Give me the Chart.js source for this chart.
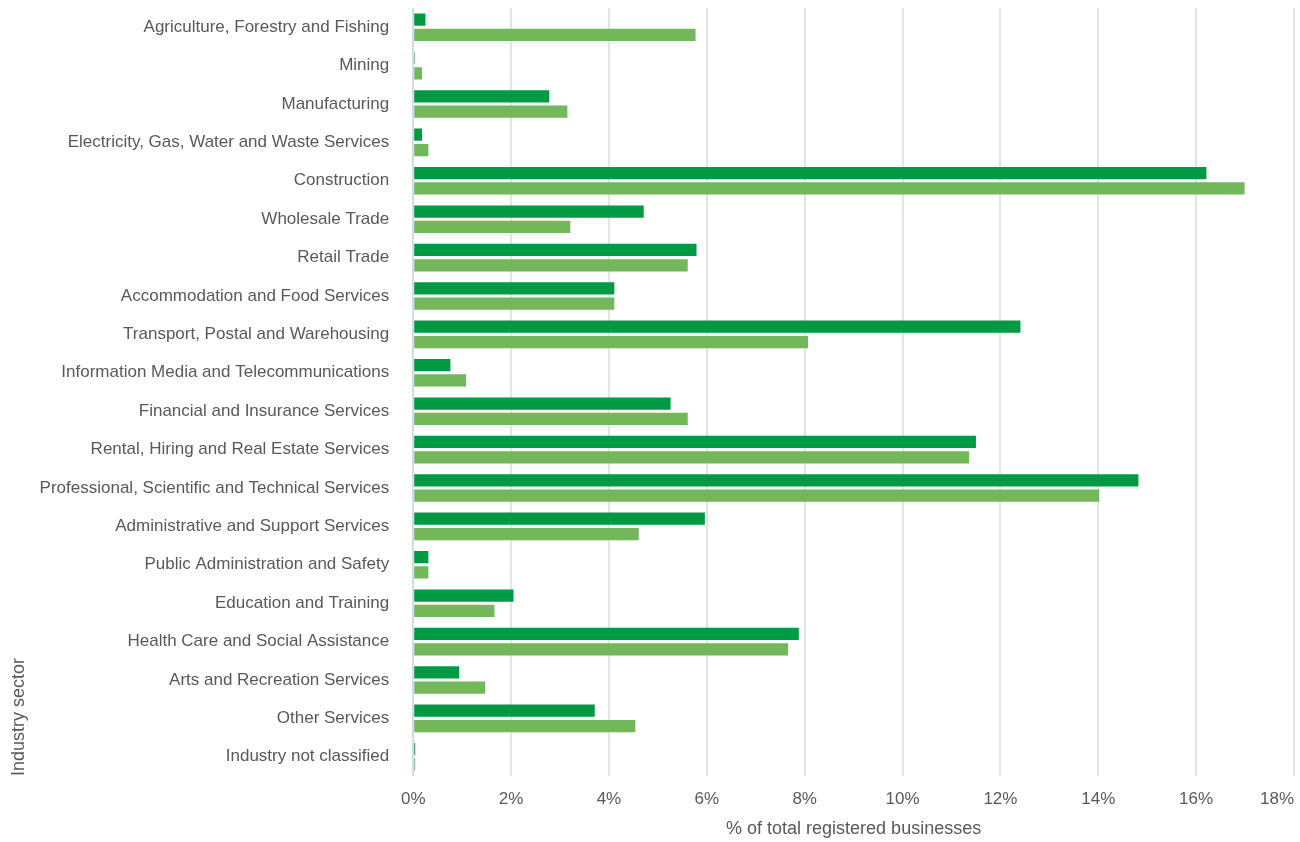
<!DOCTYPE html>
<html>
<head>
<meta charset="utf-8">
<script src="https://cdn.jsdelivr.net/npm/chart.js@4/dist/chart.umd.min.js"></script>
<style>
  html, body { margin: 0; padding: 0; background: #fff; }
  #wrap { width: 1300px; height: 842px; }
</style>
</head>
<body>
<div id="wrap"><canvas id="sectorChart" width="1300" height="842"></canvas></div>
<script>
// industry sectors, top to bottom
const sectors = [
    'Agriculture, Forestry and Fishing',
    'Mining',
    'Manufacturing',
    'Electricity, Gas, Water and Waste Services',
    'Construction',
    'Wholesale Trade',
    'Retail Trade',
    'Accommodation and Food Services',
    'Transport, Postal and Warehousing',
    'Information Media and Telecommunications',
    'Financial and Insurance Services',
    'Rental, Hiring and Real Estate Services',
    'Professional, Scientific and Technical Services',
    'Administrative and Support Services',
    'Public Administration and Safety',
    'Education and Training',
    'Health Care and Social Assistance',
    'Arts and Recreation Services',
    'Other Services',
    'Industry not classified'
];

// % of total registered businesses (dark green series)
const seriesA = [0.25, 0.03, 2.78, 0.18, 16.21, 4.71, 5.79, 4.11, 12.41, 0.76,
                 5.26, 11.5, 14.82, 5.96, 0.31, 2.05, 7.88, 0.94, 3.71, 0.04];
// % of total registered businesses (light green series)
const seriesB = [5.77, 0.18, 3.15, 0.31, 16.99, 3.21, 5.61, 4.11, 8.07, 1.08,
                 5.61, 11.36, 14.02, 4.61, 0.31, 1.66, 7.66, 1.47, 4.54, 0.04];

const xTicks = [0, 2, 4, 6, 8, 10, 12, 14, 16, 18];

const textColor = '#595959';
const fontFamily = '"Liberation Sans", Arial, sans-serif';

const ctx = document.getElementById('sectorChart').getContext('2d');
const sectorChart = new Chart(ctx, {
    type: 'bar',
    data: {
        labels: sectors,
        datasets: [{
            label: 'Series A',
            data: seriesA,
            backgroundColor: '#009a44',
            categoryPercentage: 0.8,
            barPercentage: 0.8
        }, {
            label: 'Series B',
            data: seriesB,
            backgroundColor: '#72b85a',
            categoryPercentage: 0.8,
            barPercentage: 0.8
        }]
    },
    options: {
        indexAxis: 'y',
        responsive: false,
        animation: false,
        layout: {
            padding: { top: 8, right: 6, bottom: 0, left: 0 }
        },
        scales: {
            x: {
                min: 0,
                max: 18,
                afterBuildTicks: (scale) => {
                    scale.ticks = xTicks.map(v => ({ value: v }));
                },
                afterFit: (scale) => {
                    // keep the last tick label inside without shrinking the plot
                    scale.paddingRight = 0;
                },
                ticks: {
                    color: textColor,
                    padding: 13,
                    font: { family: fontFamily, size: 17 },
                    callback: (v) => v === 18 ? '18%\u2002\u2002\u2002\u2002' : v + '%'
                },
                grid: {
                    drawTicks: false,
                    lineWidth: 2,
                    color: (c) => c.index === 0 ? '#d6d9ea' : '#e4e4e4'
                },
                border: { display: false },
                title: {
                    display: true,
                    text: '% of total registered businesses',
                    color: textColor,
                    font: { family: fontFamily, size: 18 },
                    padding: { top: -4, bottom: 2 }
                }
            },
            y: {
                afterFit: (scale) => {
                    // no extra vertical padding from tick labels
                    scale.paddingTop = 0;
                    scale.paddingBottom = 0;
                    scale.width = scale.width - 22;
                },
                ticks: {
                    color: textColor,
                    padding: 24,
                    font: { family: fontFamily, size: 17 }
                },
                grid: { display: false, drawTicks: false },
                border: { display: false },
                title: {
                    display: true,
                    text: 'Industry sector',
                    align: 'start',
                    color: textColor,
                    font: { family: fontFamily, size: 18 },
                    padding: { top: 8, bottom: 8 }
                }
            }
        },
        plugins: {
            legend: { display: false },
            tooltip: { enabled: false }
        }
    }
});
</script>
</body>
</html>
